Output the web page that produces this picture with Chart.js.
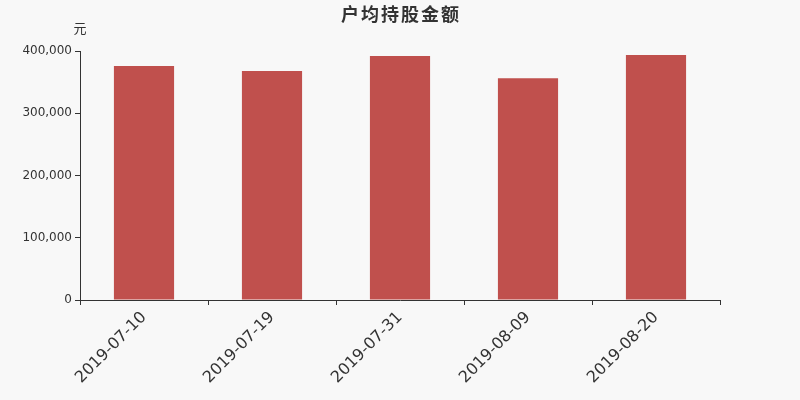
<!DOCTYPE html>
<html>
<head>
<meta charset="utf-8">
<script src="https://cdn.jsdelivr.net/npm/chart.js@4/dist/chart.umd.min.js"></script>
<style>
  html, body { margin: 0; padding: 0; background: #f8f8f8; }
  #wrap { width: 800px; height: 400px; }
</style>
</head>
<body>
<div id="wrap"><canvas id="chart"></canvas></div>
<script>
// datos
const fechas = ['2019-07-10', '2019-07-19', '2019-07-31', '2019-08-09', '2019-08-20'];
const montos = [376000, 368000, 392000, 356300, 393600];
const titulo = '户均持股金额';
const unidad = '元';

// título y unidad dibujados a mano
const textoExtra = {
    id: 'textoExtra',
    afterDraw(chart) {
        const ctx = chart.ctx;
        const area = chart.chartArea;
        ctx.save();
        ctx.fillStyle = '#333';
        ctx.textAlign = 'center';
        ctx.textBaseline = 'middle';
        ctx.font = 'bold 18px "Noto Sans CJK SC"';
        ctx.letterSpacing = '2px';
        ctx.fillText(titulo, 401, 14);
        ctx.letterSpacing = '0px';
        ctx.font = '13px "Noto Sans CJK SC"';
        ctx.fillText(unidad, area.left, 28);
        ctx.restore();
    }
};

new Chart(document.getElementById('chart'), {
    type: 'bar',
    data: {
        labels: fechas,
        datasets: [{
            data: montos,
            backgroundColor: '#c0504d',
            categoryPercentage: 1,
            barPercentage: 0.47
        }]
    },
    options: {
        responsive: true,
        maintainAspectRatio: false,
        animation: false,
        layout: { padding: { top: 51, right: 80, left: 0, bottom: 0 } },
        plugins: {
            legend: { display: false },
            title: { display: false },
            tooltip: { enabled: false }
        },
        scales: {
            x: {
                afterFit: (s) => { s.height = 100; },
                grid: { offset: true, drawOnChartArea: false, tickLength: 5, color: '#333' },
                border: { color: '#333' },
                ticks: {
                    maxRotation: 45, minRotation: 45,
                    color: '#333',
                    font: { size: 16, family: 'DejaVu Sans' }
                }
            },
            y: {
                min: 0, max: 400000,
                afterFit: (s) => { s.width = 80; },
                grid: { drawOnChartArea: false, tickLength: 5, color: '#333' },
                border: { color: '#333' },
                ticks: {
                    stepSize: 100000,
                    color: '#333',
                    padding: 3,
                    font: { size: 12, family: 'DejaVu Sans' },
                    callback: (v) => v.toLocaleString('en-US')
                }
            }
        }
    },
    plugins: [textoExtra]
});
</script>
</body>
</html>
